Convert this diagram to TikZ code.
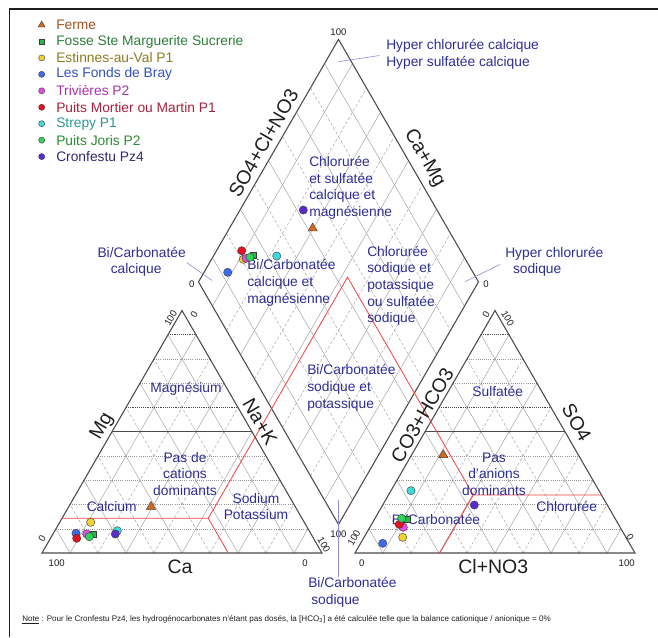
\documentclass[tikz,border=0pt]{standalone}
\usepackage{fontspec}
\setmainfont{Liberation Sans}
\usetikzlibrary{calc,shapes.geometric}
\definecolor{ink}{HTML}{1E1E1E}
\definecolor{gridgray}{HTML}{959595}
\definecolor{edgegray}{HTML}{4A4A4A}
\definecolor{mkedge}{HTML}{3A3A3A}
\definecolor{classblue}{HTML}{2D2D96}
\definecolor{pointerblue}{HTML}{8C8CD8}
\definecolor{classred}{HTML}{F04040}
\definecolor{cferme}{HTML}{D2691E}
\definecolor{cfosse}{HTML}{2DB84A}
\definecolor{cestin}{HTML}{F2D22E}
\definecolor{cfonds}{HTML}{3D6BF0}
\definecolor{ctriv}{HTML}{E44BE4}
\definecolor{cmort}{HTML}{E8101E}
\definecolor{cstrep}{HTML}{3FD9D9}
\definecolor{cjoris}{HTML}{2ED35A}
\definecolor{ccron}{HTML}{5A2ACF}
\definecolor{tferme}{HTML}{A0521E}
\definecolor{tfosse}{HTML}{2E7D3A}
\definecolor{testin}{HTML}{8C7A1E}
\definecolor{tfonds}{HTML}{3050C0}
\definecolor{ttriv}{HTML}{A830A8}
\definecolor{tmort}{HTML}{A8203C}
\definecolor{tstrep}{HTML}{2A9595}
\definecolor{tjoris}{HTML}{2A8C30}
\definecolor{tcron}{HTML}{30286E}
\tikzset{
  gridsolid/.style={color=gridgray,line width=0.3pt},
  griddash/.style={color=gridgray,line width=0.3pt,dash pattern=on 2.2pt off 1.6pt},
  griddot/.style={color=gridgray,line width=0.35pt,dash pattern=on 0.6pt off 1pt},
  darkdot/.style={color=edgegray,line width=0.45pt,dash pattern=on 0.6pt off 0.8pt},
  midline/.style={color=edgegray,line width=0.45pt},
  outline/.style={color=edgegray,line width=0.8pt,line join=miter},
  redline/.style={color=classred,line width=0.6pt},
  pointer/.style={color=pointerblue,line width=0.45pt},
  axislabel/.style={font=\fontsize{14.6}{17}\selectfont,text=ink,inner sep=0pt},
  ticklabel/.style={font=\fontsize{7.2}{8}\selectfont,text=ink,inner sep=0pt},
  classlabel/.style={font=\fontsize{10.35}{12.5}\selectfont,text=classblue,inner sep=0pt,align=center},
  legendtext/.style={font=\fontsize{10.35}{12}\selectfont,anchor=west,inner sep=0pt},
  mksize/.store in=\mksize, mksize=6.2pt,
  mk/.style={draw=mkedge,line width=0.3pt,inner sep=0pt},
  dotmark/.style={mk,circle,minimum size=\mksize},
  boxmark/.style={mk,rectangle,minimum size=0.8*\mksize},
  trimark/.style={mk,regular polygon,regular polygon sides=3,minimum size=1.3*\mksize},
  ferme/.style={trimark,fill=cferme},
  fosse/.style={boxmark,fill=cfosse},
  estinnes/.style={dotmark,fill=cestin},
  fonds/.style={dotmark,fill=cfonds},
  trivieres/.style={dotmark,fill=ctriv},
  mortier/.style={dotmark,fill=cmort},
  strepy/.style={dotmark,fill=cstrep},
  joris/.style={dotmark,fill=cjoris},
  cronfestu/.style={dotmark,fill=ccron}
}

\begin{document}
\begin{tikzpicture}[x=0.75pt,y=-0.75pt]
  \useasboundingbox (0,0) rectangle (658,637);
  \draw[ink,line width=1.1pt] (9.5,637) -- (9.5,9) -- (658,9);

  \coordinate (A1) at (42,553);
  \coordinate (B1) at (322,553);
  \coordinate (C1) at (182,310.5);
  \coordinate (A2) at (355,553);
  \coordinate (B2) at (635,553);
  \coordinate (C2) at (495,310.5);
  \coordinate (L) at (198.5,281.9);
  \coordinate (T) at (338.5,39.4);
  \coordinate (R) at (478.5,281.9);
  \coordinate (P) at (338.5,524.4);

  \foreach \i/\sty in {1/gridsolid,2/griddash,3/gridsolid,4/griddash,5/gridsolid,6/griddash,7/gridsolid,8/griddash,9/gridsolid} {
    \draw[\sty] ($(L)!\i/10!(P)$) -- ($(T)!\i/10!(R)$);
    \draw[\sty] ($(L)!\i/10!(T)$) -- ($(P)!\i/10!(R)$);
    \draw[\sty] ($(A1)!\i/10!(B1)$) -- ($(C1)!\i/10!(B1)$);
    \draw[\sty] ($(A1)!\i/10!(B1)$) -- ($(A1)!\i/10!(C1)$);
    \draw[\sty] ($(A2)!\i/10!(B2)$) -- ($(C2)!\i/10!(B2)$);
    \draw[\sty] ($(A2)!\i/10!(B2)$) -- ($(A2)!\i/10!(C2)$);
  }
  \foreach \i/\sty in {1/griddot,2/griddot,3/griddot,4/griddot,5/midline,6/darkdot,7/griddot,8/griddot,9/darkdot} {
    \draw[\sty] ($(A1)!\i/10!(C1)$) -- ($(B1)!\i/10!(C1)$);
    \draw[\sty] ($(A2)!\i/10!(C2)$) -- ($(B2)!\i/10!(C2)$);
  }
  \draw[outline] (A1) -- (B1) -- (C1) -- cycle;
  \draw[outline] (A2) -- (B2) -- (C2) -- cycle;
  \draw[outline] (L) -- (T) -- (R) -- (P) -- cycle;

  \coordinate (redL) at (208.3,518.3);
  \coordinate (redR) at (473.3,495);
  \coordinate (redT) at (347.5,277.2);
  \draw[redline] ($(A1)!0.143!(C1)$) -- (redL) -- (228.3,553);
  \draw[redline] (redL) -- (redT) -- (redR) -- (439.8,553);
  \draw[redline] (redR) -- ($(B2)!0.239!(C2)$);

  \node[axislabel,rotate=60] (ax-anion) at (263.3,143) {SO4+Cl+NO3};
  \node[axislabel,rotate=-60] (ax-camg) at (424.4,158.3) {Ca+Mg};
  \node[axislabel,rotate=60] (ax-mg) at (102.3,426.3) {Mg};
  \node[axislabel,rotate=-60] (ax-nak) at (260,421.7) {Na+K};
  \node[axislabel] (ax-ca) at (180,566.7) {Ca};
  \node[axislabel,rotate=60] (ax-hco3) at (422.3,415) {CO3+HCO3};
  \node[axislabel,rotate=-60] (ax-so4) at (576.7,422.3) {SO4};
  \node[axislabel] (ax-cl) at (493.3,566.7) {Cl+NO3};

  \node[ticklabel] (tk-dtop) at (338.5,32) {100};
  \node[ticklabel] (tk-dleft) at (191.7,284.5) {0};
  \node[ticklabel] (tk-dright) at (486,284.3) {0};
  \node[ticklabel] (tk-dbot) at (338.5,534) {100};
  \node[ticklabel] (tk-l1) at (56.7,562.7) {100};
  \node[ticklabel] (tk-l2) at (305,562.7) {0};
  \node[ticklabel,rotate=60] (tk-l3) at (42,539) {0};
  \node[ticklabel,rotate=60] (tk-l4) at (170.7,318.3) {100};
  \node[ticklabel,rotate=60] (tk-l5) at (194,315) {0};
  \node[ticklabel,rotate=-60] (tk-l6) at (324,545) {100};
  \node[ticklabel] (tk-r1) at (361.7,562.7) {0};
  \node[ticklabel] (tk-r2) at (626.7,562.7) {100};
  \node[ticklabel,rotate=60] (tk-r3) at (354,538) {100};
  \node[ticklabel,rotate=60] (tk-r4) at (486,315) {0};
  \node[ticklabel,rotate=-60] (tk-r5) at (507.7,318.3) {100};
  \node[ticklabel,rotate=-60] (tk-r6) at (630,537) {0};

  \node[classlabel,align=left,anchor=west] (cl-chlsulf) at (309,188) {Chlorurée\\et sulfatée\\calcique et\\magnésienne};
  \node[classlabel,align=left,anchor=west] (cl-bicalmg) at (247,283) {Bi/Carbonatée\\calcique et\\magnésienne};
  \node[classlabel,align=left,anchor=west] (cl-chlsod) at (367,286) {Chlorurée\\sodique et\\potassique\\ou sulfatée\\sodique};
  \node[classlabel,align=left,anchor=west] (cl-bisodk) at (307,388) {Bi/Carbonatée\\sodique et\\potassique};
  \node[classlabel] (cl-mg) at (186,389) {Magnésium};
  \node[classlabel] (cl-nocat) at (185,474) {Pas de\\cations\\dominants};
  \node[classlabel] (cl-ca) at (111.7,506.7) {Calcium};
  \node[classlabel] (cl-nak) at (256,506.7) {Sodium\\Potassium};
  \node[classlabel] (cl-so4) at (497.7,391) {Sulfatée};
  \node[classlabel] (cl-noan) at (494,474.3) {Pas\\d'anions\\dominants};
  \node[classlabel] (cl-cl) at (566.7,506.7) {Chlorurée};
  \node[classlabel] (cl-hco3) at (436,519.3) {Bi/Carbonatée};
  \node[classlabel,align=left,anchor=west] (hypcal) at (386,54.5) {Hyper chlorurée calcique\\Hyper sulfatée calcique};
  \node[classlabel,align=left,anchor=west] (hypsod) at (505,262) {Hyper chlorurée\\\hspace*{5.8pt}sodique};
  \node[classlabel,align=left,anchor=east] (bicalc) at (186,262) {Bi/Carbonatée\\\hspace*{10pt}calcique};
  \node[classlabel,align=left,anchor=north west] (bisod) at (308,577) {Bi/Carbonatée\\\hspace*{2.3pt}sodique};

  \coordinate (hypcal-tip) at (338.5,61.7);
  \coordinate (hypsod-tip) at (465,281.7);
  \coordinate (bicalc-tip) at (212,280.5);
  \coordinate (bisod-tip) at (338.5,500);
  \draw[pointer,shorten <=5pt] (hypcal.west) -- (hypcal-tip);
  \draw[pointer,shorten <=4pt] (hypsod.west) -- (hypsod-tip);
  \draw[pointer,shorten <=1pt] (bicalc.east) -- (bicalc-tip);
  \draw[pointer] (bisod.north -| bisod-tip) -- (bisod-tip);

  \foreach \nm/\sty/\lx/\ly/\dx/\dy/\rx/\ry in {
      fer/ferme/151/506.7/312.7/228.3/443.3/455,
      fos/fosse/93.3/534/253.3/255/406.7/519.3,
      est/estinnes/90.7/522.3/243.3/259.3/402.7/537.3,
      fon/fonds/76/533.3/227.7/272.3/382.7/543.3,
      tri/trivieres/86.7/534/246/258.3/403.3/527.3,
      mor/mortier/76.7/538.3/241.7/250.7/399.3/524.3,
      str/strepy/117.3/530.7/276.7/256/411/490.7,
      jor/joris/89.3/536.7/250/257.3/401.7/518.3,
      cro/cronfestu/115.3/534/303.3/210/474.3/505} {
    \node[\sty] (\nm-l) at (\lx,\ly) {};
    \node[\sty] (\nm-d) at (\dx,\dy) {};
    \node[\sty] (\nm-r) at (\rx,\ry) {};
  }

  \begin{scope}[mksize=4.6pt]
    \foreach \nm/\sty/\col/\txt [count=\k] in {
        fer/ferme/tferme/Ferme,
        fos/fosse/tfosse/Fosse Ste Marguerite Sucrerie,
        est/estinnes/testin/Estinnes-au-Val P1,
        fon/fonds/tfonds/Les Fonds de Bray,
        tri/trivieres/ttriv/Trivières P2,
        mor/mortier/tmort/Puits Mortier ou Martin P1,
        str/strepy/tstrep/Strepy P1,
        jor/joris/tjoris/Puits Joris P2,
        cro/cronfestu/tcron/Cronfestu Pz4} {
      \node[\sty] (leg-\nm) at (41.7,{25+16.45*(\k-1)}) {};
      \node[legendtext,text=\col] (legtxt-\nm) at (56,{25+16.45*(\k-1)}) {\txt};
    }
  \end{scope}

  \node[font=\fontsize{6.05}{7}\selectfont,text=ink,anchor=west,inner sep=0pt] (note) at (22,620) {\underline{Note} : Pour le Cronfestu Pz4, les hydrogénocarbonates n'étant pas dosés, la [HCO\textsubscript{3}] a été calculée telle que la balance cationique / anionique = 0\%};
\end{tikzpicture}
\end{document}
